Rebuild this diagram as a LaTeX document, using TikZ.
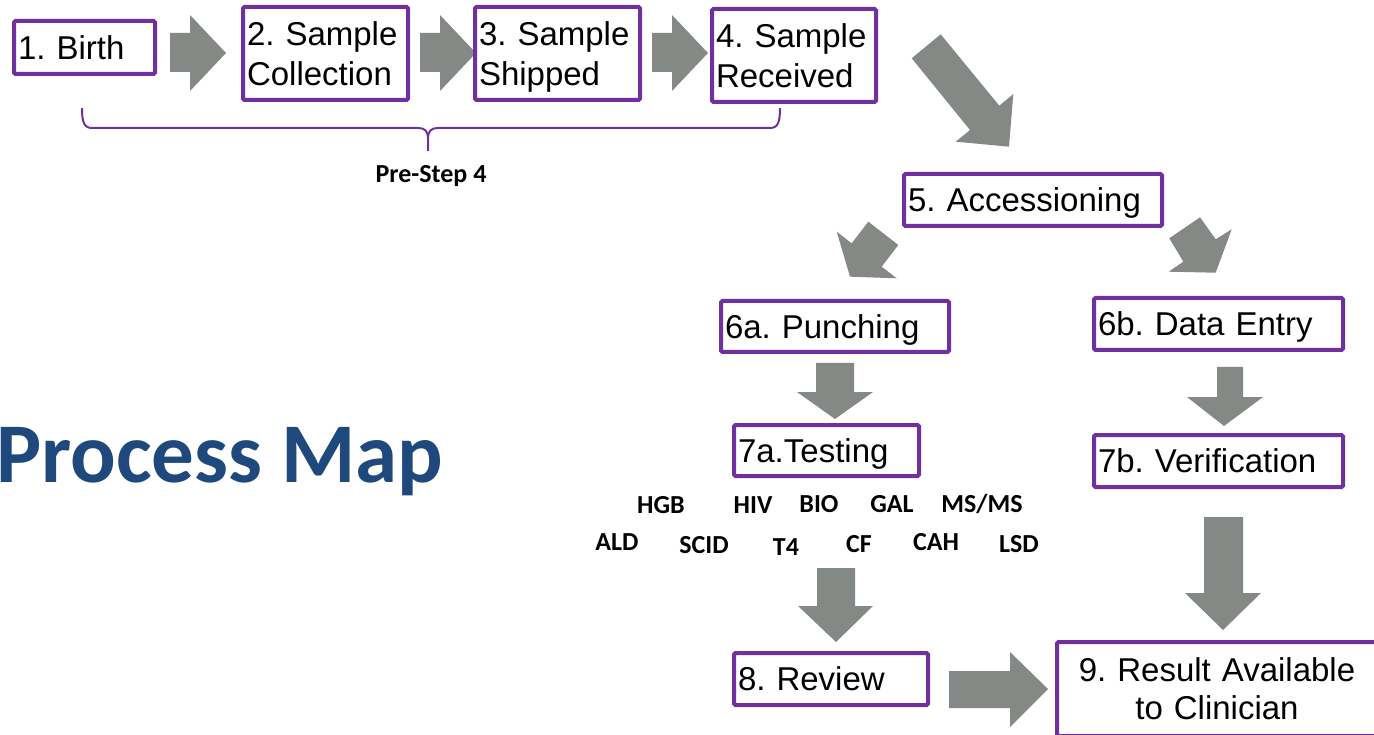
\documentclass[tikz,border=0pt]{standalone}
\usepackage{fontspec}
\setmainfont{Liberation Sans}
\newfontfamily\calib{Carlito}
\definecolor{boxpurple}{RGB}{112,48,160}
\definecolor{arrowgray}{RGB}{132,137,134}
\definecolor{titleblue}{RGB}{31,73,125}
\hyphenpenalty=10000
\exhyphenpenalty=10000
\frenchspacing
\newcommand{\boxfont}{\fontsize{33}{40}\selectfont\frenchspacing}
\newcommand{\lastboxfont}{\fontsize{33}{38}\selectfont\frenchspacing}
\begin{document}
\begin{tikzpicture}[x=1pt,y=-1pt,
  box/.style={draw=boxpurple, line width=4pt, fill=white, rounded corners=1.5pt,
    inner xsep=4pt, inner ysep=0pt, align=left, font=\boxfont},
  oneline/.style={text depth=0pt},
  twoline/.style={text depth=40pt},
  blockarrow/.style={fill=arrowgray, draw=none},
  testlbl/.style={anchor=base, inner sep=0pt, font=\calib\bfseries\fontsize{26}{30}\selectfont},
  bracepath/.style={draw=boxpurple, line width=2pt}]
\useasboundingbox (0,0) rectangle (1374,735);
\clip (0,0) rectangle (1374,735);

% block arrows
\fill[blockarrow] (170,33) -- (190,33) -- (190,15) -- (226,53) -- (190,91) -- (190,72) -- (170,72) -- cycle;
\fill[blockarrow] (420,33) -- (440,33) -- (440,15) -- (476,53) -- (440,91) -- (440,72) -- (420,72) -- cycle;
\fill[blockarrow] (652,33) -- (672,33) -- (672,15) -- (708,53) -- (672,91) -- (672,72) -- (652,72) -- cycle;
\fill[blockarrow] (940.7,34.3) -- (999.3,105.7) -- (1013.3,94) -- (1009,146.7) -- (955.7,141.7) -- (970,130) -- (911.7,58.3) -- cycle;
\fill[blockarrow] (868.3,221.7) -- (898.3,245) -- (881.7,266.7) -- (896.7,278.3) -- (850,276.7) -- (836.7,231.7) -- (851.7,243.3) -- cycle;
\fill[blockarrow] (1169.3,238.3) -- (1200,217.3) -- (1215.7,239.3) -- (1231.7,229.3) -- (1215.7,272.7) -- (1168.7,271.7) -- (1183.3,261.7) -- cycle;
\fill[blockarrow] (816,363) -- (854,363) -- (854,392) -- (873,392) -- (835,419) -- (797,392) -- (816,392) -- cycle;
\fill[blockarrow] (1217,367) -- (1243,367) -- (1243,397) -- (1263,397) -- (1224,426) -- (1187,397) -- (1217,397) -- cycle;
\fill[blockarrow] (1204,517) -- (1243,517) -- (1243,593) -- (1261,593) -- (1223,630) -- (1185,593) -- (1204,593) -- cycle;
\fill[blockarrow] (817,568) -- (855,568) -- (855,606) -- (873,606) -- (836,642) -- (798,606) -- (817,606) -- cycle;
\fill[blockarrow] (949,671) -- (1010,671) -- (1010,652) -- (1048,689) -- (1010,727) -- (1010,708) -- (949,708) -- cycle;

% boxes
\node[box, oneline, text width=133pt, minimum height=53pt] (b1) at (84.5,47.5) {1. Birth};
\node[box, twoline, text width=157pt, minimum height=93pt] (b2) at (325.5,53.5) {2. Sample\\Collection};
\node[box, twoline, text width=157pt, minimum height=93pt] (b3) at (557.5,53.5) {3. Sample\\Shipped};
\node[box, twoline, text width=156pt, minimum height=93pt] (b4) at (794,55.5) {4. Sample\\Received};
\node[box, oneline, text width=250pt, minimum height=52pt] (b5) at (1033,200) {5. Accessioning};
\node[box, oneline, text width=220pt, minimum height=51pt] (b6a) at (835,326.5) {6a. Punching};
\node[box, oneline, text width=241pt, minimum height=52pt] (b6b) at (1218.5,324) {6b. Data Entry};
\node[box, oneline, text width=177pt, minimum height=51pt] (b7a) at (826.5,450.5) {7a.Testing};
\node[box, oneline, text width=241pt, minimum height=52pt] (b7b) at (1218.5,461) {7b. Verification};
\node[box, oneline, text width=186pt, minimum height=52pt] (b8) at (831,679) {8. Review};
\node[box, text depth=38pt, text width=312pt, minimum height=94pt, align=center,
  font=\lastboxfont] (b9) at (1217,689) {9. Result Available\\to Clinician};

% brace
\draw[bracepath] (82,108) .. controls (82,122) and (84,128) .. (92,128) -- (418,128)
  .. controls (425,128) and (428,131) .. (428,139) -- (428,151);
\draw[bracepath] (780,108) .. controls (780,122) and (778,128) .. (770,128) -- (438,128)
  .. controls (431,128) and (428,131) .. (428,139);
\node[testlbl] (pre) at (431,183) {Pre-Step 4};

% title
\node[anchor=base west, inner sep=0pt, text=titleblue, font=\calib\bfseries\fontsize{85}{92}\selectfont] (title) at (-4,482) {Process Map};

% tests
\node[testlbl] (hgb) at (661,513) {HGB};
\node[testlbl] (hiv) at (753,513) {HIV};
\node[testlbl] (bio) at (819,512) {BIO};
\node[testlbl] (gal) at (892,512) {GAL};
\node[testlbl] (msms) at (982,512) {MS/MS};
\node[testlbl] (ald) at (617,550) {ALD};
\node[testlbl] (scid) at (704,553) {SCID};
\node[testlbl] (t4) at (786,555) {T4};
\node[testlbl] (cf) at (859,552) {CF};
\node[testlbl] (cah) at (936,550) {CAH};
\node[testlbl] (lsd) at (1019,552) {LSD};
\end{tikzpicture}
\end{document}
